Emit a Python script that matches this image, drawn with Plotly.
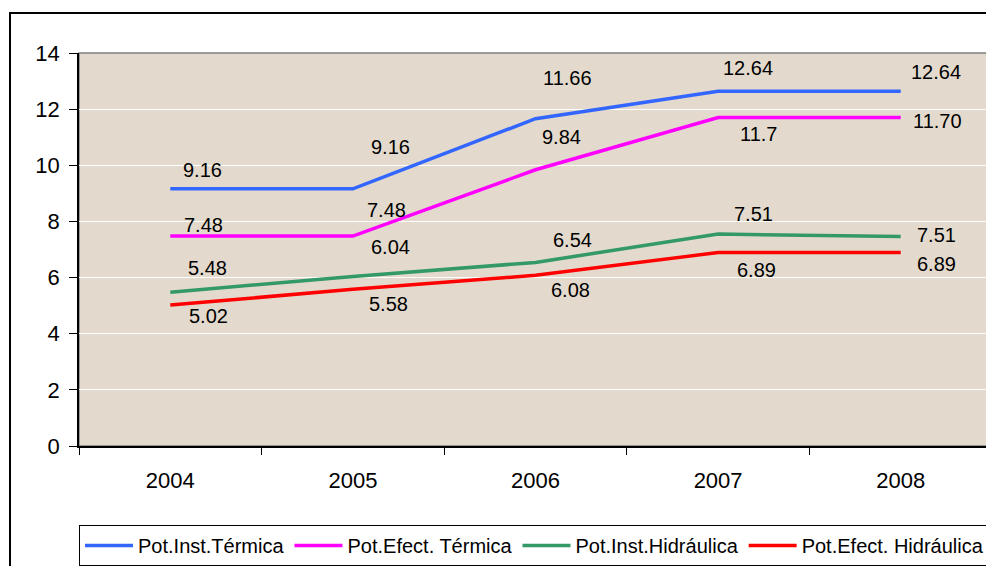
import plotly.graph_objects as go

years = ["2004", "2005", "2006", "2007", "2008"]

inst_termica = [9.16, 9.16, 11.66, 12.64, 12.64]
efect_termica = [7.48, 7.48, 9.84, 11.70, 11.70]
inst_hidraulica = [5.48, 6.04, 6.54, 7.55, 7.46]
efect_hidraulica = [5.02, 5.58, 6.08, 6.89, 6.89]

lbl_inst_termica = ["9.16", "9.16", "11.66", "12.64", "12.64"]
lbl_efect_termica = ["7.48", "7.48", "9.84", "11.7", "11.70"]
lbl_inst_hidraulica = ["5.48", "6.04", "6.54", "7.51", "7.51"]
lbl_efect_hidraulica = ["5.02", "5.58", "6.08", "6.89", "6.89"]

names = ["Pot.Inst.Térmica", "Pot.Efect. Térmica", "Pot.Inst.Hidráulica", "Pot.Efect. Hidráulica"]
y_ticks = [0, 2, 4, 6, 8, 10, 12, 14]

# styling (not data)
colors = ["#3366FF", "#FF00FF", "#339966", "#FF0000"]
label_offsets = [
    [(32, 19), (38, 42), (32, 41), (30, 23), (35, 19)],
    [(33, 11), (34, 26), (26, 33), (40, -16), (37, -3)],
    [(37, 24), (38, 29), (37, 22), (35, 20), (36, 2)],
    [(38, -11), (36, -15), (35, -15), (38, -17), (36, -11)],
]

series = [inst_termica, efect_termica, inst_hidraulica, efect_hidraulica]
labels = [lbl_inst_termica, lbl_efect_termica, lbl_inst_hidraulica, lbl_efect_hidraulica]

FONT = "Liberation Sans, Arial, sans-serif"

fig = go.Figure()
for vals, name, col in zip(series, names, colors):
    fig.add_trace(go.Scatter(
        x=years, y=vals, name=name, mode="lines",
        line=dict(color=col, width=3.5),
        hoverinfo="skip",
    ))

for vals, lbls, offs in zip(series, labels, label_offsets):
    for i, (v, t, (dx, dy)) in enumerate(zip(vals, lbls, offs)):
        fig.add_annotation(
            x=i, y=v, xref="x", yref="y", text=t, showarrow=False,
            xshift=dx, yshift=dy, font=dict(family=FONT, size=20, color="black"),
        )

# page body has an 8px margin: reference pixel = figure pixel + 8
OFF = 8
W, H = 994 - OFF, 566 - OFF
L, T = 79 - OFF, 53 - OFF
R = W - (992 - OFF)
B = H - (446 - OFF)
pw, ph = W - L - R, H - T - B

fig.add_shape(type="rect", xref="paper", yref="paper", x0=0, x1=1, y0=0, y1=1,
              line=dict(color="#808080", width=1.5), layer="below")
fig.add_shape(type="rect", xref="paper", yref="paper",
              x0=(10 - 79) / pw, x1=1.2, y0=-0.6, y1=1 + (53 - 13) / ph,
              line=dict(color="black", width=2), layer="below")

fig.update_layout(
    width=W, height=H,
    margin=dict(l=L, r=R, t=T, b=B, autoexpand=False),
    paper_bgcolor="white",
    plot_bgcolor="#E3DACD",
    font=dict(family=FONT, size=20, color="black"),
    showlegend=True,
    legend=dict(
        orientation="h", x=0, xanchor="left", y=-(525 - 446) / ph, yanchor="top",
        bordercolor="black", borderwidth=1, bgcolor="white",
        font=dict(family=FONT, size=20, color="black"),
        itemwidth=48, tracegroupgap=0,
    ),
    xaxis=dict(
        type="category", range=[-0.5, 4.5], tickson="boundaries",
        ticks="outside", ticklen=7, tickcolor="black", tickwidth=1,
        showline=True, linecolor="black", linewidth=1.5,
        showgrid=False, ticklabelstandoff=14,
        tickfont=dict(family=FONT, size=22, color="black"),
    ),
    yaxis=dict(
        range=[0, 14], tickvals=y_ticks, ticktext=[str(v) for v in y_ticks],
        ticks="outside", ticklen=8, tickcolor="black", tickwidth=1,
        showline=True, linecolor="black", linewidth=1.5,
        showgrid=True, gridcolor="white", gridwidth=1, zeroline=False,
        ticklabelstandoff=5,
        tickfont=dict(family=FONT, size=22, color="black"),
    ),
)

fig.write_html("out.html")
